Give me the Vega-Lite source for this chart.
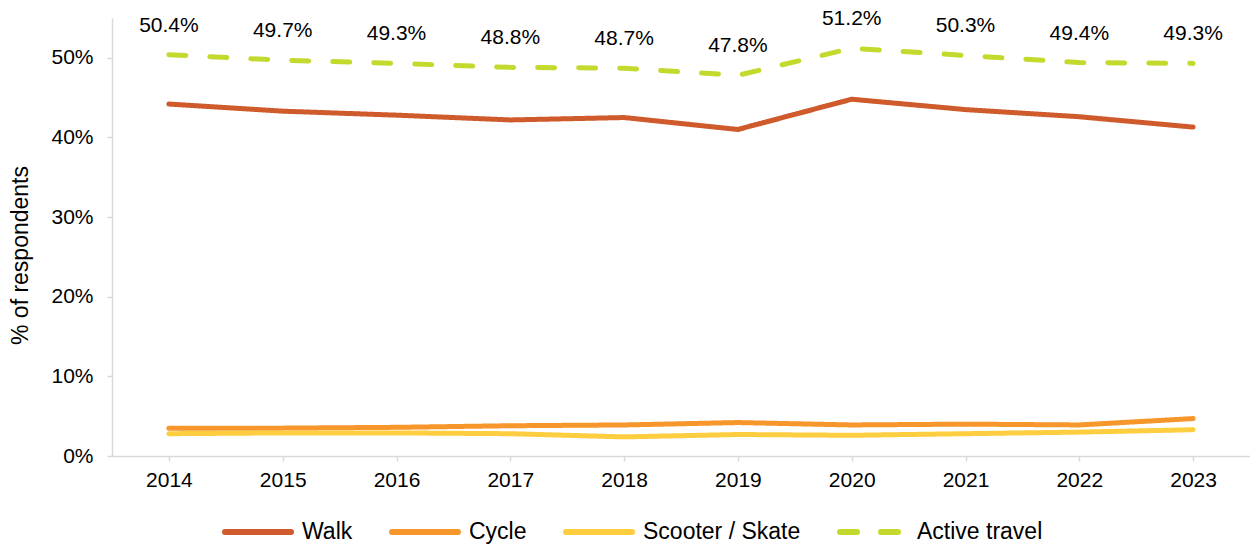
{
  "$schema": "https://vega.github.io/schema/vega-lite/v6.json",
  "autosize": {"type": "none"},
  "padding": {"left": 112, "top": 18, "right": 0, "bottom": 88},
  "width": 1138,
  "height": 438,
  "background": "white",
  "config": {
    "font": "Liberation Sans",
    "view": {"stroke": null},
    "axis": {
      "domainColor": "#d9d9d9",
      "domainWidth": 1.5,
      "tickColor": "#d9d9d9",
      "tickWidth": 1.5,
      "tickSize": 5,
      "grid": false,
      "labelColor": "#000000",
      "labelFontSize": 21,
      "titleColor": "#000000"
    }
  },
  "data": {
    "values": [
      {"year": "2014", "series": "Walk", "value": 0.442},
      {"year": "2015", "series": "Walk", "value": 0.433},
      {"year": "2016", "series": "Walk", "value": 0.428},
      {"year": "2017", "series": "Walk", "value": 0.422},
      {"year": "2018", "series": "Walk", "value": 0.425},
      {"year": "2019", "series": "Walk", "value": 0.410},
      {"year": "2020", "series": "Walk", "value": 0.448},
      {"year": "2021", "series": "Walk", "value": 0.435},
      {"year": "2022", "series": "Walk", "value": 0.426},
      {"year": "2023", "series": "Walk", "value": 0.413},
      {"year": "2014", "series": "Cycle", "value": 0.035},
      {"year": "2015", "series": "Cycle", "value": 0.035},
      {"year": "2016", "series": "Cycle", "value": 0.036},
      {"year": "2017", "series": "Cycle", "value": 0.038},
      {"year": "2018", "series": "Cycle", "value": 0.039},
      {"year": "2019", "series": "Cycle", "value": 0.042},
      {"year": "2020", "series": "Cycle", "value": 0.039},
      {"year": "2021", "series": "Cycle", "value": 0.040},
      {"year": "2022", "series": "Cycle", "value": 0.039},
      {"year": "2023", "series": "Cycle", "value": 0.047},
      {"year": "2014", "series": "Scooter / Skate", "value": 0.028},
      {"year": "2015", "series": "Scooter / Skate", "value": 0.029},
      {"year": "2016", "series": "Scooter / Skate", "value": 0.029},
      {"year": "2017", "series": "Scooter / Skate", "value": 0.028},
      {"year": "2018", "series": "Scooter / Skate", "value": 0.024},
      {"year": "2019", "series": "Scooter / Skate", "value": 0.027},
      {"year": "2020", "series": "Scooter / Skate", "value": 0.026},
      {"year": "2021", "series": "Scooter / Skate", "value": 0.028},
      {"year": "2022", "series": "Scooter / Skate", "value": 0.030},
      {"year": "2023", "series": "Scooter / Skate", "value": 0.033},
      {"year": "2014", "series": "Active travel", "value": 0.504},
      {"year": "2015", "series": "Active travel", "value": 0.497},
      {"year": "2016", "series": "Active travel", "value": 0.493},
      {"year": "2017", "series": "Active travel", "value": 0.488},
      {"year": "2018", "series": "Active travel", "value": 0.487},
      {"year": "2019", "series": "Active travel", "value": 0.478},
      {"year": "2020", "series": "Active travel", "value": 0.512},
      {"year": "2021", "series": "Active travel", "value": 0.503},
      {"year": "2022", "series": "Active travel", "value": 0.494},
      {"year": "2023", "series": "Active travel", "value": 0.493}
    ]
  },
  "encoding": {
    "x": {
      "field": "year",
      "type": "ordinal",
      "scale": {"type": "point", "padding": 0.5},
      "axis": {"title": null, "labelAngle": 0, "labelPadding": 8}
    },
    "y": {
      "field": "value",
      "type": "quantitative",
      "scale": {"domain": [0, 0.55], "nice": false},
      "axis": {
        "values": [0, 0.1, 0.2, 0.3, 0.4, 0.5],
        "format": ".0%",
        "labelPadding": 14,
        "title": "% of respondents",
        "titleFontSize": 23,
        "titleFontWeight": "normal",
        "titleAngle": -90,
        "titleX": -92,
        "titleY": 237,
        "titleAlign": "center",
        "titleBaseline": "middle"
      }
    }
  },
  "layer": [
    {
      "mark": {"type": "line", "strokeWidth": 5, "strokeCap": "round", "strokeJoin": "round"},
      "encoding": {
        "color": {
          "field": "series",
          "type": "nominal",
          "scale": {
            "domain": ["Walk", "Cycle", "Scooter / Skate", "Active travel"],
            "range": ["#CF5A2C", "#F7962A", "#FFCD40", "#C4D92E"]
          },
          "legend": {
            "title": null,
            "orient": "none",
            "direction": "horizontal",
            "columns": 4,
            "legendX": 110,
            "legendY": 478,
            "padding": 0,
            "symbolType": "stroke",
            "symbolSize": 4356,
            "symbolStrokeWidth": 6,
            "labelFontSize": 23,
            "labelColor": "#000000",
            "labelOffset": 8,
            "columnPadding": 27,
            "encode": {"symbols": {"update": {"strokeCap": {"value": "round"}}}}
          }
        },
        "strokeDash": {
          "field": "series",
          "type": "nominal",
          "scale": {
            "domain": ["Walk", "Cycle", "Scooter / Skate", "Active travel"],
            "range": [[1, 0], [1, 0], [1, 0], [17, 24]]
          },
          "legend": null
        }
      }
    },
    {
      "transform": [{"filter": "datum.series === 'Active travel'"}],
      "mark": {"type": "text", "fontSize": 21, "dy": -29, "baseline": "middle", "align": "center", "color": "#000000"},
      "encoding": {
        "text": {"field": "value", "type": "quantitative", "format": ".1%"}
      }
    }
  ]
}
